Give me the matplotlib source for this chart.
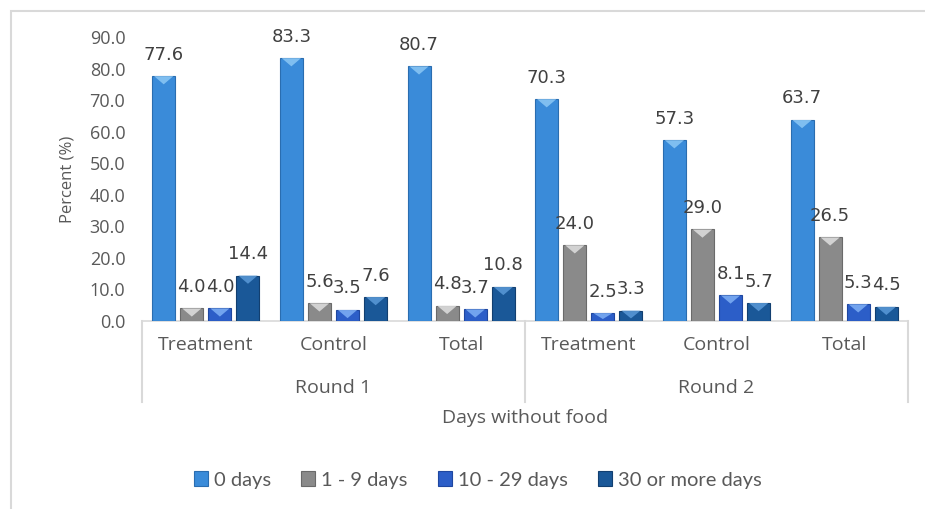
import matplotlib
matplotlib.use("Agg")
import matplotlib.pyplot as plt
import numpy as np
from matplotlib.patches import Polygon, Rectangle
from matplotlib.lines import Line2D

# ---- data ----
categories = ["Treatment", "Control", "Total", "Treatment", "Control", "Total"]
rounds = ["Round 1", "Round 2"]
series_names = ["0 days", "1 - 9 days", "10 - 29 days", "30 or more days"]
days_0 = [77.6, 83.3, 80.7, 70.3, 57.3, 63.7]
days_1_9 = [4.0, 5.6, 4.8, 24.0, 29.0, 26.5]
days_10_29 = [4.0, 3.5, 3.7, 2.5, 8.1, 5.3]
days_30_plus = [14.4, 7.6, 10.8, 3.3, 5.7, 4.5]
yticks = [0, 10, 20, 30, 40, 50, 60, 70, 80, 90]

series = [days_0, days_1_9, days_10_29, days_30_plus]
colors = ["#3a8bd9", "#8a8a8a", "#2c5ec8", "#1a5898"]
edges = ["#2a6db0", "#6a6a6a", "#1f47a0", "#123f70"]
tops = ["#8cc8f5", "#e0e0e0", "#7fb0f5", "#5a9ad8"]

TXT = "#595959"
LINE = "#d9d9d9"

fig = plt.figure(figsize=(9.25, 5.09), dpi=100)
ax = fig.add_axes([142/925, 1-321/509, (908-142)/925, (321-37)/509])

x = np.arange(len(categories))
offsets = [-0.33, -0.11, 0.11, 0.33]
width = 0.18

for vals, off, c, ec, tc, name in zip(series, offsets, colors, edges, tops, series_names):
    bars = ax.bar(x + off, vals, width, color=c, edgecolor=ec, linewidth=0.8,
                  label=name, zorder=3)
    for b, v in zip(bars, vals):
        x0 = b.get_x(); w = b.get_width(); h = b.get_height()
        bh = min(2.6, h * 0.75)
        tri = Polygon([[x0 + w*0.08, h], [x0 + w*0.92, h],
                       [x0 + w*0.5, h - bh]], closed=True,
                      facecolor=tc, edgecolor="none", alpha=0.85, zorder=4)
        ax.add_patch(tri)
        ax.annotate(f"{v:.1f}", (x0 + w/2, h), xytext=(0, 9),
                    textcoords="offset points", ha="center", va="bottom",
                    fontsize=13, color="#404040", family="DejaVu Sans")

ax.set_xlim(-0.5, len(categories) - 0.5)
ax.set_ylim(0, 90)
ax.set_yticks(yticks)
ax.set_yticklabels([f"{t:.1f}" for t in yticks], fontsize=13, color=TXT,
                   family="Open Sans")
ax.set_xticks(x)
ax.set_xticklabels(categories, fontsize=14, color=TXT, family="Open Sans")
ax.tick_params(axis="x", length=0, pad=11)
ax.tick_params(axis="y", length=0, pad=12)
for s in ["top", "right", "left"]:
    ax.spines[s].set_visible(False)
ax.spines["bottom"].set_color(LINE)
ax.spines["bottom"].set_linewidth(1.2)

ax.set_ylabel("Percent (%)", fontsize=12, color=TXT, family="Open Sans", labelpad=10)

# multi-level category axis
trans = ax.get_xaxis_transform()
sep_bottom = -(402 - 321) / (321 - 37)
for xs in [-0.5, 2.5, 5.5]:
    ax.add_line(Line2D([xs, xs], [0, sep_bottom], transform=trans, color=LINE,
                       lw=1.5, clip_on=False))
round_y = -(388 - 321) / (321 - 37)
for i, r in enumerate(rounds):
    ax.text(i*3 + 1, round_y, r, transform=trans, ha="center", va="center",
            fontsize=14, color=TXT, family="Open Sans")

fig.text(525/925, 1 - 418/509, "Days without food", ha="center", va="center",
         fontsize=14, color=TXT, family="Open Sans")

leg = fig.legend(loc="center", bbox_to_anchor=(478/925, 1 - 480/509), ncol=4,
                 frameon=False, handlelength=0.7, handleheight=0.7,
                 handletextpad=0.3, columnspacing=1.5,
                 prop={"family": "Lato", "size": 14.5})
for t in leg.get_texts():
    t.set_color(TXT)

# outer chart border
fig.add_artist(Rectangle((11/925, -0.05), 1.2, 1 - 11/509 + 0.05,
                         transform=fig.transFigure, fill=False,
                         edgecolor=LINE, lw=1.5))

fig.savefig("out.png", dpi=100)
